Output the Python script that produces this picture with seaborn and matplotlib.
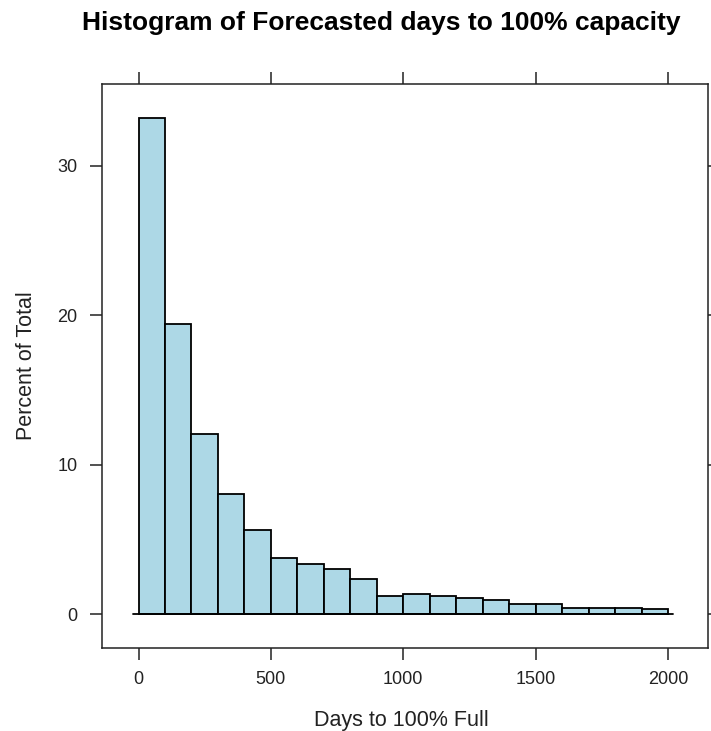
import numpy as np
import matplotlib
matplotlib.use("Agg")
import matplotlib.pyplot as plt
import seaborn as sns

# Data
bin_edges = [0, 100, 200, 300, 400, 500, 600, 700, 800, 900, 1000,
             1100, 1200, 1300, 1400, 1500, 1600, 1700, 1800, 1900, 2000]
percent = [33.18, 19.44, 12.04, 8.05, 5.64, 3.75, 3.36, 3.01, 2.34, 1.22,
           1.35, 1.22, 1.10, 0.97, 0.71, 0.71, 0.44, 0.44, 0.44, 0.33]
x_ticks = [0, 500, 1000, 1500, 2000]
y_ticks = [0, 10, 20, 30]

sns.set_theme(style="ticks")
plt.rcParams['font.family'] = ['Liberation Sans', 'DejaVu Sans']

fig = plt.figure(figsize=(7.11, 7.31), dpi=100)
ax = fig.add_axes([102 / 711, 1 - 648 / 731, 606 / 711, 564 / 731])

edges = np.array(bin_edges, dtype=float)
centers = (edges[:-1] + edges[1:]) / 2
sns.histplot(x=centers, weights=percent, bins=bin_edges, stat="count",
             color="#ADD8E6", alpha=1, edgecolor="black", linewidth=1.3,
             ax=ax)

span = edges[-1] - edges[0]
ax.plot([edges[0] - 0.011 * span, edges[-1] + 0.01 * span], [0, 0],
        color="black", lw=1.3, zorder=3)

ax.set_xlim(-138, 2151)
ax.set_ylim(-2.25, 35.47)
ax.set_xticks(x_ticks)
ax.set_yticks(y_ticks)
ax.tick_params(direction="out", length=8.6, width=1.1, color="#222222",
               top=True, right=True, labeltop=False, labelright=False,
               labelsize=13, labelcolor="#222222")
ax.tick_params(axis="x", pad=8)
ax.tick_params(axis="y", pad=9)
for s in ax.spines.values():
    s.set_visible(True)
    s.set_color("#222222")
    s.set_linewidth(1.1)

ax.set_xlabel("Days to 100% Full", fontsize=15.5, color="#222222", va="baseline")
ax.xaxis.set_label_coords((401 - 102) / 606, (648 - 726) / 564)
ax.set_ylabel("Percent of Total", fontsize=15.5, color="#222222", va="center")
ax.yaxis.set_label_coords((27 - 102) / 606, 0.5)

fig.text(381 / 711, 1 - 30 / 731, "Histogram of Forecasted days to 100% capacity",
         ha="center", va="baseline", fontsize=19, fontweight="bold", color="black")

fig.savefig("out.png", dpi=100)
